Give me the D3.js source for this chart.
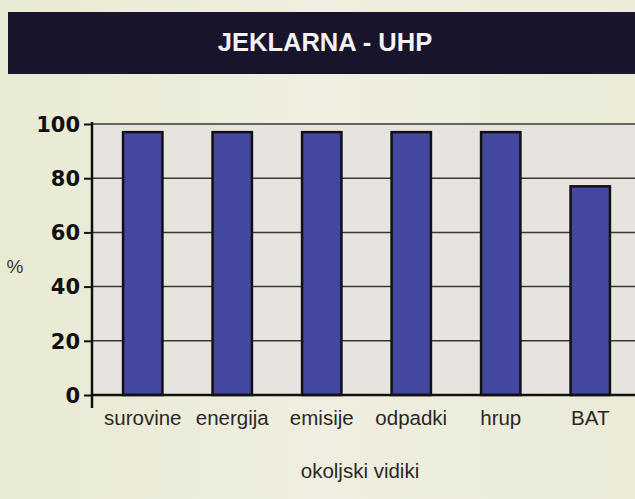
<!DOCTYPE html>
<html><head><meta charset="utf-8">
<script src="https://cdn.jsdelivr.net/npm/d3@7"></script>
<style>body{margin:0;background:#ecebd9;}svg{display:block;}</style>
</head><body>
<script>
const title = "JEKLARNA - UHP";
const categories = ["surovine","energija","emisije","odpadki","hrup","BAT"];
const values = [97, 97, 97, 97, 97, 77];
const yTicks = [0, 20, 40, 60, 80, 100];
const yLabel = "%";
const xLabel = "okoljski vidiki";

const W = 635, H = 499;
const svg = d3.select("body").append("svg").attr("width", W).attr("height", H);

const defs = svg.append("defs");
const grad = defs.append("linearGradient").attr("id","bg").attr("x1","0").attr("x2","1").attr("y1","0").attr("y2","0");
grad.append("stop").attr("offset","0").attr("stop-color","#e9ead3");
grad.append("stop").attr("offset","0.5").attr("stop-color","#efeee0");
grad.append("stop").attr("offset","1").attr("stop-color","#ebebd8");
svg.append("rect").attr("width", W).attr("height", H).attr("fill","url(#bg)");

// title bar
svg.append("rect").attr("x", 8).attr("y", 12).attr("width", W - 8).attr("height", 62).attr("fill", "#18142c");
svg.append("text").attr("x", 325).attr("y", 51).attr("text-anchor","middle")
  .attr("font-family","'Liberation Sans',Arial,sans-serif").attr("font-weight","bold")
  .attr("font-size", 25.5).attr("fill","#f4f2f4").text(title);

const plotLeft = 92, plotRight = 635, y0 = 395, y100 = 124;
const x = d3.scaleBand().domain(categories).range([98, 635]).paddingInner(0.56).paddingOuter(0.28);
const y = d3.scaleLinear().domain([0, 100]).range([y0, y100]);

// plot area
svg.append("rect").attr("x", plotLeft).attr("y", y(100)).attr("width", plotRight - plotLeft).attr("height", y(0) - y(100)).attr("fill", "#e7e4df");

// gridlines
svg.append("g").selectAll("line").data(yTicks.filter(d => d > 0)).join("line")
  .attr("x1", plotLeft).attr("x2", plotRight).attr("y1", d => y(d)).attr("y2", d => y(d))
  .attr("stroke", "#3a3835").attr("stroke-width", 1.5);

// bars
svg.append("g").selectAll("rect").data(categories).join("rect")
  .attr("x", d => x(d)).attr("width", x.bandwidth())
  .attr("y", (d, i) => y(values[i])).attr("height", (d, i) => y(0) - y(values[i]))
  .attr("fill", "#4347a0").attr("stroke", "#111").attr("stroke-width", 2.5);

// x axis baseline
svg.append("line").attr("x1", plotLeft).attr("x2", plotRight).attr("y1", y(0)).attr("y2", y(0)).attr("stroke", "#111").attr("stroke-width", 2.5);

// y axis
const yAxis = d3.axisLeft(y).tickValues(yTicks).tickSize(8).tickPadding(4);
const ga = svg.append("g").attr("transform", `translate(${plotLeft},0)`).call(yAxis);
ga.select(".domain").remove();
ga.selectAll(".tick line").attr("stroke", "#111").attr("stroke-width", 2);
ga.selectAll(".tick text").attr("font-family","'DejaVu Sans',Verdana,sans-serif").attr("font-weight","bold")
  .attr("font-size", 21).attr("fill", "#111").attr("dy", "0.35em");
ga.append("line").attr("x1", 0).attr("x2", 0).attr("y1", y(100) - 2).attr("y2", y(0) + 13).attr("stroke", "#111").attr("stroke-width", 2.5);

// x labels
const xa = d3.axisBottom(x).tickSize(0).tickPadding(15.5);
const gx = svg.append("g").attr("transform", `translate(0,${y(0)})`).call(xa);
gx.select(".domain").remove();
gx.selectAll(".tick text").attr("font-family","'Liberation Sans',Arial,sans-serif")
  .attr("font-size", 20.5).attr("fill", "#2a2826");

svg.append("text").attr("x", 15).attr("y", 273).attr("text-anchor","middle")
  .attr("font-family","'Liberation Sans',Arial,sans-serif").attr("font-size", 19).attr("fill","#3a3835").text(yLabel);
svg.append("text").attr("x", 360).attr("y", 478).attr("text-anchor","middle")
  .attr("font-family","'Liberation Sans',Arial,sans-serif").attr("font-size", 20.5).attr("fill","#2a2826").text(xLabel);
</script>
</body></html>
